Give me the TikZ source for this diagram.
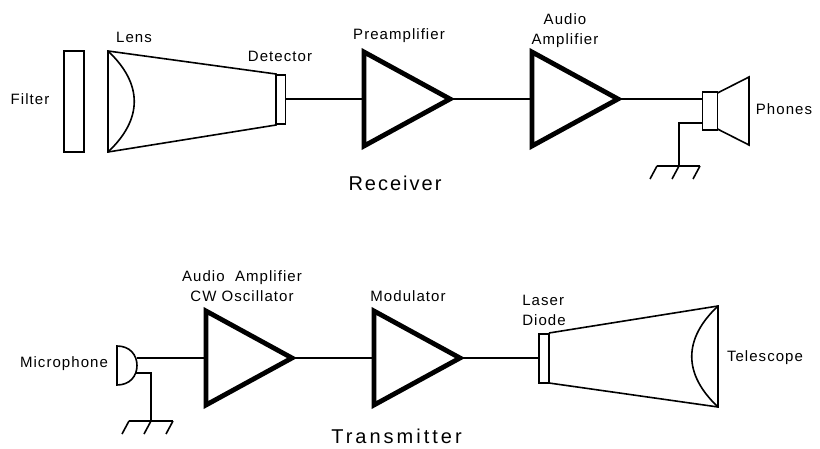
\documentclass[tikz,border=0pt]{standalone}
\usepackage{fontspec}
\setmainfont[LetterSpace=7]{Liberation Sans}
\tikzset{
  wire/.style={line width=1.6pt},
  ampline/.style={line width=4.8pt, line join=miter},
  boxpart/.style={draw, line width=1.6pt, inner sep=0pt},
  partlabel/.style={font=\fontsize{15}{20}\selectfont, align=center, inner sep=0pt},
  titlelabel/.style={font=\fontsize{20}{24}\selectfont\addfontfeature{LetterSpace=10}, inner sep=0pt}
}
\begin{document}
\begin{tikzpicture}[x=1pt, y=-1pt]
    \useasboundingbox (0,0) rectangle (820,449);

    % Filter and its label
    \node[boxpart, minimum width=20pt, minimum height=101pt] (filter) at (74,101.5) {};
    \node[partlabel] (filterlabel) at (30,99) {Filter};

    % Lens body with the curved face
    \draw[wire] (108,51) -- (276,74) -- (276,125) -- (108,152) -- cycle;
    \draw[wire] (108,51) .. controls (143,84) and (143,119) .. (108,152);
    \node[partlabel] (lenslabel) at (134,37) {Lens};

    % Detector
    \node[boxpart, minimum width=9.5pt, minimum height=49pt] (detector) at (280.7,99.5) {};
    \node[partlabel] (detectorlabel) at (280,56) {Detector};

    % Preamplifier triangle
    \coordinate (preampin) at (364,99);
    \coordinate (preamptip) at (450,99);
    \draw[ampline] (364,52) -- (450,99) -- (364,146) -- cycle;
    \node[partlabel] (preamplabel) at (399,36) {Preamplifier};

    % Audio amplifier triangle
    \coordinate (audioin) at (532,99);
    \coordinate (audiotip) at (618,99);
    \draw[ampline] (532,52) -- (618,99) -- (532,146) -- cycle;
    \node[partlabel] (audiolabel) at (565,30.5) {Audio\\Amplifier};

    % Phones, coil box and cone
    \node[boxpart, minimum width=15pt, minimum height=38pt] (coil) at (710,111) {};
    \draw[wire] (717.5,93) -- (749,77) -- (749,145) -- (717.5,129);
    \node[partlabel] (phoneslabel) at (784,109) {Phones};

    % Phones ground
    \coordinate (phonesgnd) at (679,166);
    \coordinate (phonesret) at (703,123);
    \draw[wire] (phonesret) -| (phonesgnd);
    \draw[wire] (657,166) -- (700,166);
    \draw[wire] (657,166) -- (650,179);
    \draw[wire] (679,166) -- (672,179);
    \draw[wire] (700,166) -- (693,179);

    % Receiver connections
    \draw[wire] (detector.east |- preampin) -- (preampin);
    \draw[wire] (preamptip) -- (audioin);
    \draw[wire] (audiotip) -- (coil.west |- audiotip);

    \node[titlelabel] (receiverlabel) at (395,183) {Receiver};

    % Microphone
    \draw[wire] (117,346) .. controls (130,346) and (137,355) .. (137,365.5)
        .. controls (137,376) and (130,385) .. (117,385) -- cycle;
    \coordinate (micout) at (136.5,358);
    \node[partlabel] (miclabel) at (64,364) {Microphone};

    % Microphone ground
    \coordinate (micret) at (135,373);
    \coordinate (micgnd) at (151,421);
    \draw[wire] (micret) -| (micgnd);
    \draw[wire] (129,421) -- (173,421);
    \draw[wire] (129,421) -- (122,434);
    \draw[wire] (151,421) -- (144,434);
    \draw[wire] (173,421) -- (166,434);

    % CW oscillator triangle
    \coordinate (oscin) at (206,358);
    \coordinate (osctip) at (292,358);
    \draw[ampline] (206,311) -- (292,358) -- (206,405) -- cycle;
    \node[partlabel] (osclabel) at (242,286) {Audio~~Amplifier\\CW Oscillator};

    % Modulator triangle
    \coordinate (modin) at (374,358);
    \coordinate (modtip) at (460,358);
    \draw[ampline] (374,311) -- (460,358) -- (374,405) -- cycle;
    \node[partlabel] (modlabel) at (408,296) {Modulator};

    % Laser diode
    \node[boxpart, minimum width=10pt, minimum height=49pt] (laser) at (544,358.5) {};
    \node[partlabel, align=left] (laserlabel) at (544,310.5) {Laser\\Diode};

    % Telescope body with the curved face
    \draw[wire] (549,333) -- (718,306) -- (718,407) -- (549,383);
    \draw[wire] (718,306) .. controls (683,339) and (683,374) .. (718,407);
    \node[partlabel] (telescopelabel) at (765,358) {Telescope};

    % Transmitter connections
    \draw[wire] (micout) -- (oscin);
    \draw[wire] (osctip) -- (modin);
    \draw[wire] (modtip) -- (laser.west |- modtip);

    \node[titlelabel, font=\fontsize{20}{24}\selectfont\addfontfeature{LetterSpace=15}] (transmitterlabel) at (396.5,436) {Transmitter};
\end{tikzpicture}
\end{document}
